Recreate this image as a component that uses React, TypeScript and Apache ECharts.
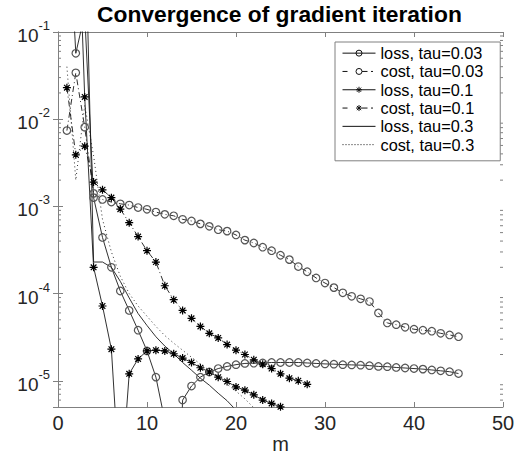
import React, { useEffect, useRef } from 'react';
import * as echarts from 'echarts';

// iteration index m
const M = [1, 2, 3, 4, 5, 6, 7, 8, 9, 10, 11, 12, 13, 14, 15, 16, 17, 18, 19, 20, 21, 22, 23, 24, 25, 26, 27, 28, 29, 30, 31, 32, 33, 34, 35, 36, 37, 38, 39, 40, 41, 42, 43, 44, 45];

const lossTau003 = [4.4, 0.057, 0.16, 1.26e-3, 4.4e-4, 2.0e-4, 1.07e-4, 6.4e-5, 3.8e-5, 2.2e-5, 1.1e-5, 3.5e-6, 1e-8, 6.0e-6, 8.7e-6, 1.1e-5, 1.26e-5, 1.38e-5, 1.46e-5, 1.53e-5, 1.58e-5, 1.59e-5, 1.6e-5, 1.62e-5, 1.62e-5, 1.62e-5, 1.62e-5, 1.6e-5, 1.58e-5, 1.56e-5, 1.55e-5, 1.53e-5, 1.52e-5, 1.51e-5, 1.49e-5, 1.46e-5, 1.45e-5, 1.42e-5, 1.4e-5, 1.38e-5, 1.36e-5, 1.33e-5, 1.3e-5, 1.27e-5, 1.21e-5];
const costTau003 = [7.4e-3, 3.4e-2, 8.1e-3, 1.41e-3, 1.2e-3, 1.12e-3, 1.07e-3, 1.035e-3, 9.7e-4, 9.25e-4, 8.6e-4, 8.1e-4, 7.8e-4, 7.1e-4, 6.8e-4, 6.3e-4, 5.9e-4, 5.4e-4, 5.2e-4, 4.7e-4, 4.1e-4, 3.8e-4, 3.4e-4, 3.1e-4, 2.75e-4, 2.45e-4, 2.04e-4, 1.78e-4, 1.51e-4, 1.32e-4, 1.17e-4, 1.02e-4, 9.3e-5, 8.7e-5, 8.1e-5, 6.0e-5, 4.6e-5, 4.4e-5, 4.1e-5, 3.9e-5, 3.8e-5, 3.7e-5, 3.5e-5, 3.35e-5, 3.2e-5];
const lossTau01 = [50, 14, 0.018, 2.0e-4, 7.2e-5, 2.3e-5, 5e-7, 1.2e-5, 1.78e-5, 2.2e-5, 2.24e-5, 2.2e-5, 2.04e-5, 1.82e-5, 1.62e-5, 1.41e-5, 1.26e-5, 1.1e-5, 9.8e-6, 8.5e-6, 7.8e-6, 6.9e-6, 6.0e-6, 5.5e-6, 5.02e-6];
const costTau01 = [2.3e-2, 3.9e-3, 4.9e-3, 1.9e-3, 1.55e-3, 1.26e-3, 9.3e-4, 6.5e-4, 4.5e-4, 3.1e-4, 2.3e-4, 1.23e-4, 8.5e-5, 6.4e-5, 5.2e-5, 4.2e-5, 3.5e-5, 3.1e-5, 2.6e-5, 2.24e-5, 2.0e-5, 1.74e-5, 1.55e-5, 1.38e-5, 1.2e-5, 1.07e-5, 1.0e-5, 9.1e-6];
const lossTau03 = [30, 10, 3.0, 2.3e-4, 2.3e-4, 2.0e-4, 1.38e-4, 8.9e-5, 5.9e-5, 4.3e-5, 3.2e-5, 2.5e-5, 2.04e-5, 1.62e-5, 1.32e-5, 1.07e-5, 8.9e-6, 7.2e-6, 5.9e-6, 4.6e-6];
const costTau03 = [4.0e-2, 2.0e-3, 1.45e-2, 3.8e-3, 7.1e-4, 3.0e-4, 1.58e-4, 1.0e-4, 7.2e-5, 5.5e-5, 4.2e-5, 3.3e-5, 2.7e-5, 2.24e-5, 1.86e-5, 1.55e-5, 1.32e-5, 1.1e-5, 9.1e-6, 7.6e-6, 6.2e-6, 4.9e-6];

const SERIES_NAMES = ['loss, tau=0.03', 'cost, tau=0.03', 'loss, tau=0.1', 'cost, tau=0.1', 'loss, tau=0.3', 'cost, tau=0.3'];

const Y_MIN = 5e-6;
const Y_MAX = 0.1;
const X_MIN = 0;
const X_MAX = 50;
const X_INTERVAL = 10;
const MINOR_TICKS = [6e-6, 7e-6, 8e-6, 9e-6, 2e-5, 3e-5, 4e-5, 5e-5, 6e-5, 7e-5, 8e-5, 9e-5, 2e-4, 3e-4, 4e-4, 5e-4, 6e-4, 7e-4, 8e-4, 9e-4, 2e-3, 3e-3, 4e-3, 5e-3, 6e-3, 7e-3, 8e-3, 9e-3, 2e-2, 3e-2, 4e-2, 5e-2, 6e-2, 7e-2, 8e-2, 9e-2];

const FONT = 'Liberation Sans, Arial, Helvetica, sans-serif';
const AXIS_COLOR = '#808080';
const TEXT_COLOR = '#262626';
const LINE_COLOR = '#1a1a1a';
const ASTERISK = 'path://M5,0L5,10M0,5L10,5M1.46,1.46L8.54,8.54M1.46,8.54L8.54,1.46';

// legend icons drawn in a 33 x 6 box
const CIRCLE_ICON = 'M19.5,3A3,3,0,1,1,13.5,3A3,3,0,1,1,19.5,3';
const STAR_ICON = 'M16.5,0L16.5,6M13.5,3L19.5,3M14.4,0.9L18.6,5.1M14.4,5.1L18.6,0.9';
const DASHDOT = 'M0,3L5,3M19.5,3L25,3M28.5,3L30.5,3M33,3';
const LEGEND_ICONS = [
  'path://M0,3L33,3' + CIRCLE_ICON,
  'path://' + DASHDOT + CIRCLE_ICON,
  'path://M0,3L33,3' + STAR_ICON,
  'path://' + DASHDOT + STAR_ICON,
  'path://M0,0M0,6M0,3L33,3',
  'path://M0,0M0,6M0,3L1,3M3,3L4,3M6,3L7,3M9,3L10,3M12,3L13,3M15,3L16,3M18,3L19,3M21,3L22,3M24,3L25,3M27,3L28,3M30,3L31,3M33,3',
];

const pairs = (vals: number[]) => vals.map((v, i) => [M[i], v]);

const circleStyle = { color: 'rgba(255,255,255,0)', borderColor: '#555', borderWidth: 1.2 };
const starStyle = { color: 'rgba(255,255,255,0)', borderColor: '#000', borderWidth: 1.2 };

export default function App() {
  const ref = useRef<HTMLDivElement>(null);
  useEffect(() => {
    if (!ref.current) return;
    const chart = echarts.init(ref.current, undefined, { renderer: 'svg' });
    const yLabel = (v: number) => {
      const l = Math.log10(v);
      const e = Math.round(l);
      if (Math.abs(l - e) > 0.01) return '';
      return `{b|10}{e|${e}}`;
    };
    const option: any = {
      animation: false,
      backgroundColor: '#fff',
      title: {
        text: 'Convergence of gradient iteration',
        left: 97,
        top: 2,
        padding: 0,
        textStyle: { fontFamily: FONT, fontWeight: 'bold', fontSize: 22.8, color: '#000' },
      },
      grid: { left: 58, right: 23, top: 32, bottom: 52, containLabel: false, outerBoundsMode: 'none' },
      legend: {
        data: SERIES_NAMES.map((name, i) => ({
          name,
          icon: LEGEND_ICONS[i],
          itemStyle: { color: 'rgba(255,255,255,0)', borderColor: '#111', borderWidth: 1 },
        })),
        orient: 'vertical',
        left: 335,
        top: 42,
        padding: [3, 17, 8, 7],
        itemGap: 2,
        itemWidth: 33,
        itemHeight: 6,
        symbolKeepAspect: false,
        backgroundColor: '#fff',
        borderColor: AXIS_COLOR,
        borderWidth: 1,
        textStyle: { fontFamily: FONT, fontSize: 16.3, color: '#000', lineHeight: 16.3 },
      },
      xAxis: [
        {
          type: 'value', min: X_MIN, max: X_MAX, interval: X_INTERVAL,
          name: 'm', nameLocation: 'middle', nameGap: 27, nameMoveOverlap: false,
          nameTextStyle: { fontFamily: FONT, fontSize: 20, color: TEXT_COLOR, lineHeight: 20 },
          axisLine: { lineStyle: { color: AXIS_COLOR, width: 1 } },
          axisTick: { inside: true, length: 5, lineStyle: { color: AXIS_COLOR } },
          axisLabel: { fontFamily: FONT, fontSize: 20, color: TEXT_COLOR, margin: 6 },
          splitLine: { show: false },
        },
        {
          type: 'value', position: 'top', min: X_MIN, max: X_MAX, interval: X_INTERVAL,
          axisLine: { show: true, lineStyle: { color: AXIS_COLOR, width: 1 } },
          axisTick: { inside: true, length: 5, lineStyle: { color: AXIS_COLOR } },
          axisLabel: { show: false },
          splitLine: { show: false },
        },
      ],
      yAxis: [
        {
          type: 'log', logBase: 10, min: Y_MIN, max: Y_MAX,
          axisLine: { show: true, lineStyle: { color: AXIS_COLOR, width: 1 } },
          axisTick: { show: true, inside: true, length: 5, lineStyle: { color: AXIS_COLOR } },
          axisLabel: {
            formatter: yLabel, margin: 8, showMinLabel: false,
            rich: {
              b: { fontFamily: FONT, fontSize: 19, color: TEXT_COLOR, lineHeight: 26, verticalAlign: 'bottom' },
              e: { fontFamily: FONT, fontSize: 13, color: TEXT_COLOR, lineHeight: 13, verticalAlign: 'top' },
            },
          },
          splitLine: { show: false },
        },
        {
          type: 'log', logBase: 10, min: Y_MIN, max: Y_MAX, position: 'right',
          axisLine: { show: true, lineStyle: { color: AXIS_COLOR, width: 1 } },
          axisTick: { show: true, inside: true, length: 5, lineStyle: { color: AXIS_COLOR } },
          axisLabel: { show: false },
          splitLine: { show: false },
        },
      ],
      series: [
        {
          name: SERIES_NAMES[0], type: 'line', data: pairs(lossTau003),
          symbol: 'circle', symbolSize: 7.5, showAllSymbol: true,
          lineStyle: { color: LINE_COLOR, width: 0.9, type: 'solid' },
          itemStyle: circleStyle,
        },
        {
          name: SERIES_NAMES[1], type: 'line', data: pairs(costTau003),
          symbol: 'circle', symbolSize: 7.5, showAllSymbol: true,
          lineStyle: { color: LINE_COLOR, width: 0.9, type: [6, 3, 1, 3] },
          itemStyle: circleStyle,
        },
        {
          name: SERIES_NAMES[2], type: 'line', data: pairs(lossTau01),
          symbol: ASTERISK, symbolSize: 8, showAllSymbol: true,
          lineStyle: { color: LINE_COLOR, width: 0.9, type: 'solid' },
          itemStyle: starStyle,
        },
        {
          name: SERIES_NAMES[3], type: 'line', data: pairs(costTau01),
          symbol: ASTERISK, symbolSize: 8, showAllSymbol: true,
          lineStyle: { color: LINE_COLOR, width: 0.9, type: [6, 3, 1, 3] },
          itemStyle: starStyle,
        },
        {
          name: SERIES_NAMES[4], type: 'line', data: pairs(lossTau03),
          symbol: 'none',
          lineStyle: { color: LINE_COLOR, width: 0.9, type: 'solid' },
          itemStyle: { color: LINE_COLOR },
        },
        {
          name: SERIES_NAMES[5], type: 'line', data: pairs(costTau03),
          symbol: 'none',
          lineStyle: { color: LINE_COLOR, width: 0.9, type: [1, 3] },
          itemStyle: { color: LINE_COLOR },
        },
        {
          type: 'custom',
          silent: true,
          clip: false,
          data: MINOR_TICKS.map((v) => [X_MIN, v]),
          renderItem: (params: any, api: any) => {
            const y = api.coord([X_MIN, api.value(1)])[1];
            const cs = params.coordSys;
            const st = { stroke: AXIS_COLOR, lineWidth: 1 };
            return {
              type: 'group',
              children: [
                { type: 'line', shape: { x1: cs.x, y1: y, x2: cs.x + 3, y2: y }, style: st },
                { type: 'line', shape: { x1: cs.x + cs.width - 3, y1: y, x2: cs.x + cs.width, y2: y }, style: st },
              ],
            };
          },
        },
      ],
    };
    chart.setOption(option);
    return () => chart.dispose();
  }, []);
  return <div ref={ref} style={{ width: 526, height: 459, position: 'absolute', left: 0, top: 0 }} />;
}
